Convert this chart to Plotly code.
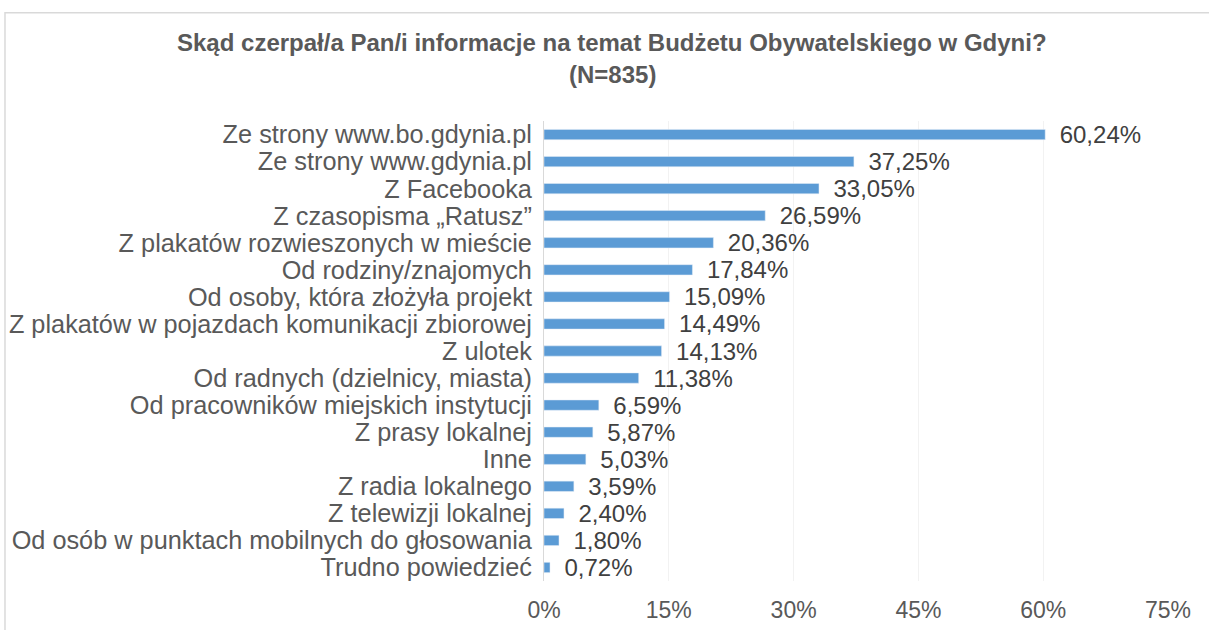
import plotly.graph_objects as go

categories = [
    "Ze strony www.bo.gdynia.pl",
    "Ze strony www.gdynia.pl",
    "Z Facebooka",
    "Z czasopisma „Ratusz”",
    "Z plakatów rozwieszonych w mieście",
    "Od rodziny/znajomych",
    "Od osoby, która złożyła projekt",
    "Z plakatów w pojazdach komunikacji zbiorowej",
    "Z ulotek",
    "Od radnych (dzielnicy, miasta)",
    "Od pracowników miejskich instytucji",
    "Z prasy lokalnej",
    "Inne",
    "Z radia lokalnego",
    "Z telewizji lokalnej",
    "Od osób w punktach mobilnych do głosowania",
    "Trudno powiedzieć",
]
values = [60.24, 37.25, 33.05, 26.59, 20.36, 17.84, 15.09, 14.49, 14.13,
          11.38, 6.59, 5.87, 5.03, 3.59, 2.40, 1.80, 0.72]
tick_vals = [0, 15, 30, 45, 60, 75]
tick_text = ["0%", "15%", "30%", "45%", "60%", "75%"]

title_line1 = "Skąd czerpał/a Pan/i informacje na temat Budżetu Obywatelskiego w Gdyni?"
title_line2 = "(N=835)"

# labels in Polish format: comma as decimal separator
labels = ["\u00a0\u2009" + f"{v:.2f}%".replace(".", ",") for v in values]

fig = go.Figure(go.Bar(
    y=categories, x=values, orientation="h",
    text=labels, textposition="outside", cliponaxis=False,
    constraintext="none",
    textfont=dict(size=24, color="#404040"),
    marker=dict(color="#5B9BD5"),
    hoverinfo="none",
))

fig.update_layout(
    width=1209, height=630,
    paper_bgcolor="white", plot_bgcolor="white",
    font=dict(family="Liberation Sans, Arial, sans-serif", color="#595959"),
    margin=dict(l=544, r=41, t=121, b=49),
    bargap=0.62,
    showlegend=False,
    annotations=[
        dict(text="<b>" + title_line1 + "</b>", xref="paper", yref="paper",
             x=0.109, y=1.17, xanchor="center", yanchor="middle",
             showarrow=False, font=dict(size=24, color="#595959")),
        dict(text="<b>" + title_line2 + "</b>", xref="paper", yref="paper",
             x=0.109, y=1.102, xanchor="center", yanchor="middle",
             showarrow=False, font=dict(size=24, color="#595959")),
    ],
    shapes=[dict(type="rect", xref="paper", yref="paper",
                 x0=-0.8638, x1=1.3, y0=1.2353, y1=-0.3,
                 line=dict(color="#D9D9D9", width=1.5), layer="below")],
)

fig.update_xaxes(range=[0, 75], tickvals=tick_vals, ticktext=tick_text,
                 showgrid=True, gridcolor="#F2F2F2", zeroline=False, automargin=False,
                 tickfont=dict(size=23, color="#595959"), ticks="", ticklabelstandoff=13)
fig.update_yaxes(autorange="reversed", showline=True, linecolor="#D9D9D9", automargin=False,
                 tickmode="array", tickvals=categories, ticktext=categories,
                 tickfont=dict(size=25.3, color="#595959"), ticks="", ticklabelstandoff=6)

fig.write_html("out.html", config={"displayModeBar": False},
               post_script="document.body.style.margin='0';")
